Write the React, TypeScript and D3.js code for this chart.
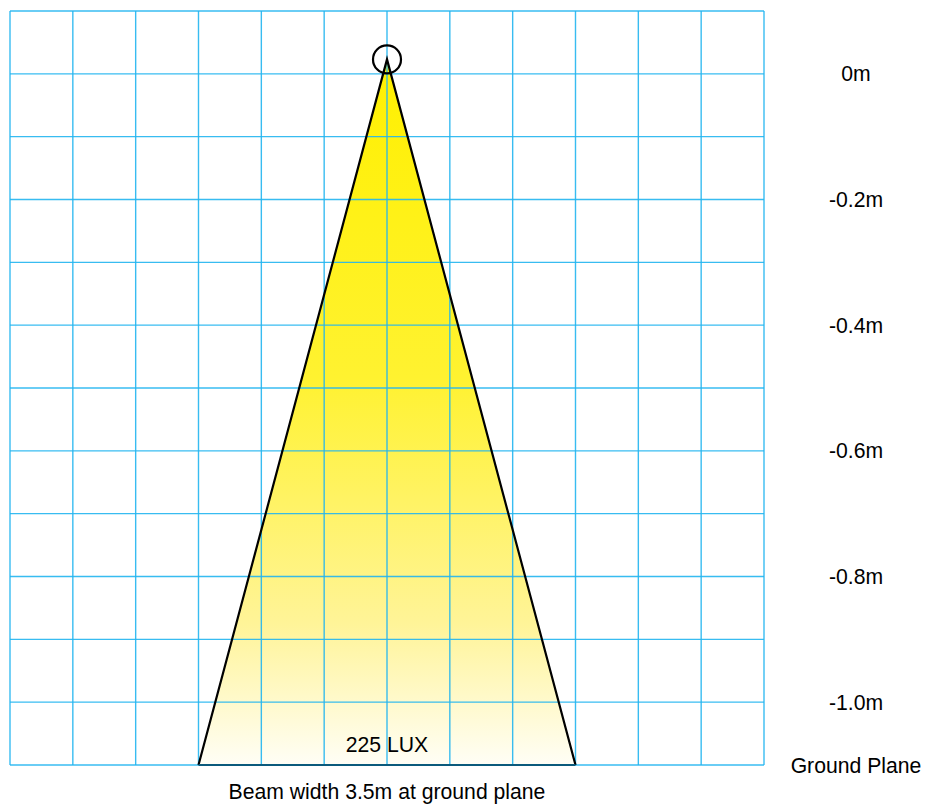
import React from "react";
import * as d3 from "d3";

const heightTicks = [0, -0.2, -0.4, -0.6, -0.8, -1.0];
const heightLabels = ["0m", "-0.2m", "-0.4m", "-0.6m", "-0.8m", "-1.0m"];
const groundLevel = -1.1;
const topLevel = 0.1;
const beamWidth = 3.5; // m at ground plane
const spanWidth = 7; // horizontal extent of grid, m
const gridCols = 12;
const gridRows = 12;
const lampLevel = 0.023;
const luxLabel = "225 LUX";
const beamLabel = "Beam width 3.5m at ground plane";
const groundLabel = "Ground Plane";

const W = 926;
const H = 804;
const left = 10;
const right = 764;
const top = 11;
const bottom = 765;

export default function App() {
  const x = d3.scaleLinear().domain([-spanWidth / 2, spanWidth / 2]).range([left, right]);
  const y = d3.scaleLinear().domain([topLevel, groundLevel]).range([top, bottom]);

  const colVals = d3.range(gridCols + 1).map((i) => -spanWidth / 2 + (i * spanWidth) / gridCols);
  const rowVals = d3.range(gridRows + 1).map((i) => topLevel + (i * (groundLevel - topLevel)) / gridRows);

  const beamPts: [number, number][] = [
    [x(0), y(lampLevel)],
    [x(-beamWidth / 2), y(groundLevel)],
    [x(beamWidth / 2), y(groundLevel)],
  ];
  const line = d3.line();
  const tri = line(beamPts) + "Z";

  const font = "'Liberation Sans', Arial, Helvetica, sans-serif";
  const labelX = 856;
  const fs = 21.2;

  return (
    <svg
      width={W}
      height={H}
      style={{ position: "absolute", left: 0, top: 0, background: "#fff" }}
    >
      <defs>
        <linearGradient id="beam" x1="0" y1={y(lampLevel)} x2="0" y2={y(groundLevel)} gradientUnits="userSpaceOnUse">
          <stop offset="0" stopColor="#fff000" />
          <stop offset="0.45" stopColor="#fff230" />
          <stop offset="0.8" stopColor="#fff498" />
          <stop offset="1" stopColor="#fffef6" />
        </linearGradient>
      </defs>
      <path d={tri} fill="url(#beam)" />
      <g stroke="#22b5ef" strokeWidth={1.4} strokeOpacity={0.9}>
        {colVals.map((v, i) => (
          <line key={"c" + i} x1={x(v)} x2={x(v)} y1={top} y2={bottom} />
        ))}
        {rowVals.map((v, i) => (
          <line key={"r" + i} x1={left} x2={right} y1={y(v)} y2={y(v)} />
        ))}
      </g>
      <path d={line([beamPts[1], beamPts[0], beamPts[2]]) || ""} fill="none" stroke="#000" strokeWidth={2.2} strokeLinejoin="miter" />
      <line
        x1={beamPts[1][0]}
        x2={beamPts[2][0]}
        y1={beamPts[1][1]}
        y2={beamPts[2][1]}
        stroke="#0b5a7c"
        strokeWidth={2}
      />
      <circle cx={x(0)} cy={y(lampLevel)} r={14} fill="none" stroke="#000" strokeWidth={2.2} />
      <g fontFamily={font} fontSize={fs} fill="#000" textAnchor="middle">
        {heightTicks.map((t, i) => (
          <text key={i} x={labelX} y={y(t) + 7.5}>
            {heightLabels[i]}
          </text>
        ))}
        <text x={labelX} y={y(groundLevel) + 8}>
          {groundLabel}
        </text>
        <text x={x(0)} y={752}>
          {luxLabel}
        </text>
        <text x={x(0)} y={799}>
          {beamLabel}
        </text>
      </g>
    </svg>
  );
}
